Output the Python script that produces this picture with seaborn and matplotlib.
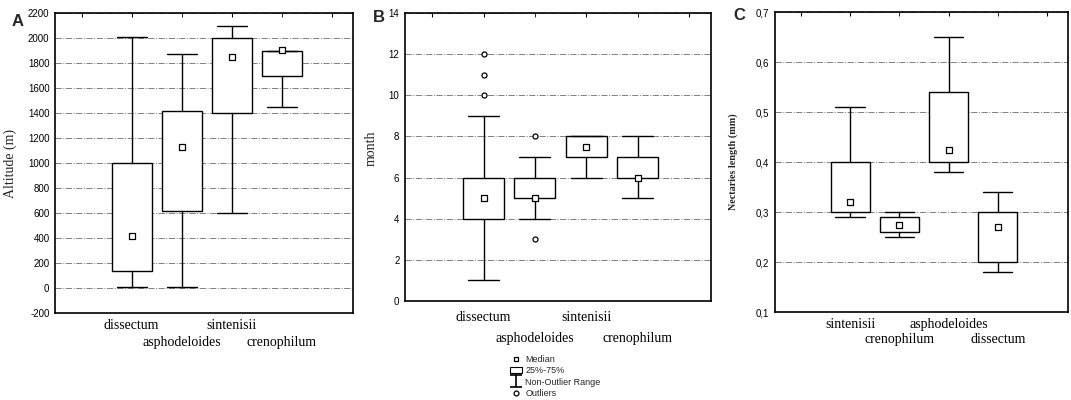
import numpy as np
import pandas as pd
import matplotlib
matplotlib.use("Agg")
import matplotlib.pyplot as plt
from matplotlib.lines import Line2D
from matplotlib.patches import Patch
from matplotlib.path import Path
import seaborn as sns

# Panel A - altitude (m)
species_a = ["dissectum", "asphodeloides", "sintenisii", "crenophilum"]
alt_low = [10, 10, 600, 1450]
alt_q1 = [140, 620, 1400, 1700]
alt_med = [420, 1130, 1850, 1905]
alt_q3 = [1000, 1420, 2000, 1900]
alt_high = [2010, 1870, 2100, 1900]
alt_out = [[], [], [], []]

# Panel B - flowering month
species_b = ["dissectum", "asphodeloides", "sintenisii", "crenophilum"]
month_low = [1, 4, 6, 5]
month_q1 = [4, 5, 7, 6]
month_med = [5, 5, 7.5, 6]
month_q3 = [6, 6, 8, 7]
month_high = [9, 7, 8, 8]
month_out = [[10, 11, 12], [3, 8], [], []]

# Panel C - nectaries length (mm)
species_c = ["sintenisii", "crenophilum", "asphodeloides", "dissectum"]
nec_low = [0.29, 0.25, 0.38, 0.18]
nec_q1 = [0.30, 0.26, 0.40, 0.20]
nec_med = [0.32, 0.275, 0.425, 0.27]
nec_q3 = [0.40, 0.29, 0.54, 0.30]
nec_high = [0.51, 0.30, 0.65, 0.34]
nec_out = [[], [], [], []]

sns.set_style("white")
plt.rcParams['font.family'] = ['Liberation Sans', 'DejaVu Sans']

fig = plt.figure(figsize=(10.71, 4.0), dpi=100)


def draw_panel(ax, names, low, q1, med, q3, high, outliers, yticks, ylabels,
               ylim, ylabel, label_xy, pad, row_gap, ylabel_kw):
    pos = np.arange(len(names))
    stats = [dict(label=n, whislo=l, q1=a, med=m, q3=b, whishi=h, fliers=[])
             for n, l, a, m, b, h in zip(names, low, q1, med, q3, high)]
    line = dict(color='black', linewidth=1.0)
    ax.bxp(stats, positions=pos, widths=0.8, capwidths=0.6, patch_artist=True,
           showfliers=False, zorder=2,
           boxprops=dict(facecolor='white', edgecolor='black', linewidth=1.0),
           whiskerprops=line, capprops=line, medianprops=dict(linewidth=0))

    med_df = pd.DataFrame({'pos': pos, 'med': med})
    sns.scatterplot(data=med_df, x='pos', y='med', marker='s', s=13,
                    color='white', edgecolor='black', linewidth=0.9,
                    zorder=4, ax=ax, legend=False)
    out_pos = [p for p, o in zip(pos, outliers) for _ in o]
    out_val = [v for o in outliers for v in o]
    if out_val:
        out_df = pd.DataFrame({'pos': out_pos, 'val': out_val})
        sns.scatterplot(data=out_df, x='pos', y='val', marker='o', s=13,
                        color='white', edgecolor='black', linewidth=0.9,
                        zorder=4, ax=ax, legend=False)

    ax.set_xlim(-1.53, 4.43)
    ax.set_ylim(*ylim)
    ax.set_yticks(yticks)
    ax.set_yticklabels(ylabels, fontsize=7)
    # staggered category labels: first row on major ticks, second row on minor
    ax.set_xticks([-1, 0, 2, 4])
    ax.set_xticklabels(['', names[0], names[2], ''],
                       fontfamily='Liberation Serif', fontsize=10)
    ax.set_xticks([1, 3], minor=True)
    ax.set_xticklabels([names[1], names[3]], minor=True,
                       fontfamily='Liberation Serif', fontsize=10)
    ax.set_xlabel('')
    ax.set_ylabel(ylabel, **ylabel_kw)
    ax.yaxis.set_label_coords(*label_xy)
    ax.tick_params(axis='x', which='major', direction='in', length=3, top=True,
                   pad=pad, colors='black')
    ax.tick_params(axis='x', which='minor', direction='in', length=3, top=True,
                   pad=pad + row_gap, colors='black')
    ax.tick_params(axis='y', direction='out', length=2, pad=2, colors='black')
    ax.yaxis.grid(True, linestyle='-.', color='0.5', linewidth=0.7)
    ax.xaxis.grid(False, which='both')
    ax.set_axisbelow(True)
    for s in ax.spines.values():
        s.set_color('black')
        s.set_linewidth(1.2)


serif = dict(fontfamily='Liberation Serif', fontsize=10)

ax_a = fig.add_axes([55 / 1071, 1 - 313 / 400, 298 / 1071, 300 / 400])
draw_panel(ax_a, species_a, alt_low, alt_q1, alt_med, alt_q3, alt_high, alt_out,
           list(range(-200, 2201, 200)), [str(v) for v in range(-200, 2201, 200)],
           (-200, 2200), 'Altitude (m)', (-0.128, 0.5), 4, 12.5, serif)

ax_b = fig.add_axes([405 / 1071, 1 - 301 / 400, 306 / 1071, 288 / 400])
draw_panel(ax_b, species_b, month_low, month_q1, month_med, month_q3, month_high,
           month_out, list(range(0, 15, 2)), [str(v) for v in range(0, 15, 2)],
           (0, 14), 'month', (-0.088, 0.53), 7, 15, serif)

ax_c = fig.add_axes([775 / 1071, 1 - 312 / 400, 293 / 1071, 300 / 400])
c_ticks = [0.1, 0.2, 0.3, 0.4, 0.5, 0.6, 0.7]
draw_panel(ax_c, species_c, nec_low, nec_q1, nec_med, nec_q3, nec_high, nec_out,
           c_ticks, [f"{v:.1f}".replace('.', ',') for v in c_ticks],
           (0.1, 0.7), 'Nectaries length (mm)', (-0.126, 0.5), 4, 11,
           dict(fontfamily='Liberation Serif', fontsize=7.3, fontweight='bold'))

for letter, x, y in [('A', 18, 21), ('B', 379, 17), ('C', 739, 16)]:
    fig.text(x / 1071, 1 - y / 400, letter, fontsize=12, fontweight='bold',
             ha='center', va='center')

# legend under panel B
ibeam = Path([(-1, 1), (1, 1), (0, 1), (0, -1), (-1, -1), (1, -1)],
             [Path.MOVETO, Path.LINETO, Path.MOVETO, Path.LINETO,
              Path.MOVETO, Path.LINETO])
handles = [
    Line2D([], [], marker='s', linestyle='none', markerfacecolor='white',
           markeredgecolor='black', markersize=3.5, markeredgewidth=0.9),
    Patch(facecolor='white', edgecolor='black', linewidth=0.8),
    Line2D([], [], marker=ibeam, linestyle='none', color='black',
           markersize=9, markeredgewidth=1.2),
    Line2D([], [], marker='o', linestyle='none', markerfacecolor='white',
           markeredgecolor='black', markersize=3.5, markeredgewidth=0.9),
]
labels = ['Median', '25%-75%', 'Non-Outlier Range', 'Outliers']
fig.legend(handles, labels, loc='upper left',
           bbox_to_anchor=(510 / 1071, 1 - 355 / 400), frameon=False,
           fontsize=6.5, handlelength=1.3, handletextpad=0.4,
           labelspacing=0.25, borderpad=0, borderaxespad=0)

fig.savefig('out.png', dpi=100)
